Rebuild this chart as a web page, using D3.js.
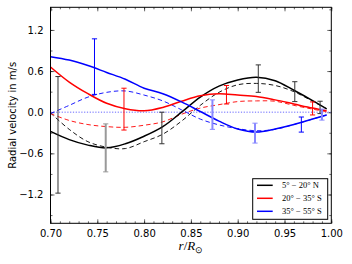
<!DOCTYPE html>
<head>
    <meta charset="utf-8">
    <script src="https://cdn.jsdelivr.net/npm/d3@7"></script>
    <style type="text/css">
        body {
            margin: 0;
            background: #fff;
        }
        .tick text {
            font-family: "DejaVu Sans", sans-serif;
            font-size: 10px;
        }
        .legend text {
            font-family: "Liberation Serif", serif;
            font-size: 8.5px;
        }
    </style>
</head>
<body>
    <div id="chart"></div>
</body>
</html>

<script type="text/javascript">
	// radius grid (r/Rsun) shared by all curves
	var rGrid = [0.700, 0.720, 0.740, 0.760, 0.780, 0.800, 0.820, 0.840, 0.860, 0.880, 0.900, 0.920, 0.940, 0.960, 0.980, 0.995];

	// solid = model, dashed = second model, one per latitude band
	var blackSolid = [-0.28, -0.40, -0.48, -0.52, -0.46, -0.35, -0.21, 0.00, 0.22, 0.38, 0.47, 0.51, 0.46, 0.32, 0.17, 0.05];
	var blackDashed = [-0.01, -0.25, -0.43, -0.51, -0.53, -0.43, -0.32, -0.13, 0.10, 0.29, 0.40, 0.42, 0.39, 0.30, 0.16, 0.05];
	var redSolid = [0.66, 0.44, 0.27, 0.13, 0.05, 0.02, 0.07, 0.16, 0.24, 0.27, 0.25, 0.23, 0.18, 0.12, 0.06, 0.02];
	var redDashed = [-0.02, -0.12, -0.18, -0.21, -0.22, -0.19, -0.14, -0.03, 0.06, 0.11, 0.155, 0.165, 0.16, 0.10, 0.045, 0.005];
	var blueSolid = [0.81, 0.76, 0.68, 0.58, 0.48, 0.35, 0.27, 0.15, 0.01, -0.13, -0.245, -0.29, -0.245, -0.18, -0.10, -0.04];
	var blueDashed = [-0.02, 0.10, 0.22, 0.29, 0.31, 0.25, 0.165, 0.035, -0.10, -0.185, -0.24, -0.27, -0.25, -0.18, -0.10, -0.04];

	// measurements with error bars; group "b" = second data set
	var blackErrR = [0.708, 0.759, 0.819, 0.922, 0.961, 0.988];
	var blackErrV = [-0.33, -0.52, -0.23, 0.49, 0.30, 0.07];
	var blackErrE = [0.85, 0.35, 0.23, 0.20, 0.145, 0.09];
	var blackErrG = ["a", "b", "a", "a", "a", "a"];

	var redErrR = [0.7785, 0.888, 0.980];
	var redErrV = [0.045, 0.255, 0.055];
	var redErrE = [0.305, 0.135, 0.095];
	var redErrG = ["a", "a", "a"];

	var blueErrR = [0.747, 0.873, 0.9185, 0.968, 0.990];
	var blueErrV = [0.665, -0.035, -0.305, -0.18, -0.035];
	var blueErrE = [0.405, 0.215, 0.145, 0.11, 0.08];
	var blueErrG = ["a", "b", "b", "a", "b"];

	var legendLabels = ["5\u00b0 \u2212 20\u00b0 N", "20\u00b0 \u2212 35\u00b0 S", "35\u00b0 \u2212 55\u00b0 S"];
	var xTicks = [0.70, 0.75, 0.80, 0.85, 0.90, 0.95, 1.00];
	var yTicks = [-1.2, -0.6, 0.0, 0.6, 1.2];

	var width = 352, height = 264;
	var margin = {left: 50.5, right: 20.7, top: 7.3, bottom: 40.7};

	var svg = d3.select('#chart').append("svg")
		.attr("width", width)
		.attr("height", height);

	var x = d3.scaleLinear()
		.domain([0.70, 1.00])
		.range([margin.left, width - margin.right]);

	var y = d3.scaleLinear()
		.domain([-1.62, 1.53])
		.range([height - margin.bottom, margin.top]);

	var fmtMinus = function(f) {
		return function(d) { return f(d).replace("-", "\u2212"); };
	};

	// ticks on all four sides, pointing in (classic style)
	var minorX = d3.range(0.70, 1.0001, 0.01);
	var minorY = d3.range(-1.5, 1.51, 0.3);

	function addAxis(axis, tr, minor, showLabels) {
		var g = svg.append("g").attr("transform", tr);
		g.call(axis.tickValues(minor).tickSize(-2).tickFormat(""));
		g.select(".domain").remove();
		var g2 = svg.append("g").attr("transform", tr);
		g2.call(showLabels);
		g2.select(".domain").remove();
		g.selectAll("line").attr("stroke", "#000").attr("stroke-width", 0.6);
		g2.selectAll("line").attr("stroke", "#000").attr("stroke-width", 0.6);
	}

	var fx = fmtMinus(d3.format(".2f")), fy = fmtMinus(d3.format(".1f"));
	var yb = height - margin.bottom, xr = width - margin.right;

	addAxis(d3.axisBottom(x), "translate(0," + yb + ")", minorX,
		function(g) { g.call(d3.axisBottom(x).tickValues(xTicks).tickSize(-4).tickPadding(7).tickFormat(fx)); });
	addAxis(d3.axisTop(x), "translate(0," + margin.top + ")", minorX,
		function(g) { g.call(d3.axisTop(x).tickValues(xTicks).tickSize(-4).tickFormat("")); });
	addAxis(d3.axisLeft(y), "translate(" + margin.left + ",0)", minorY,
		function(g) { g.call(d3.axisLeft(y).tickValues(yTicks).tickSize(-4).tickPadding(7).tickFormat(fy)); });
	addAxis(d3.axisRight(y), "translate(" + xr + ",0)", minorY,
		function(g) { g.call(d3.axisRight(y).tickValues(yTicks).tickSize(-4).tickFormat("")); });

	svg.selectAll(".tick text").attr("fill", "#000");

	// zero line
	svg.append("line")
		.attr("x1", x(0.70)).attr("x2", x(1.00))
		.attr("y1", y(0)).attr("y2", y(0))
		.attr("stroke", "#9999ff")
		.attr("stroke-width", 1.5)
		.attr("stroke-dasharray", "1.2,1.6");

	var line = d3.line()
		.x(function(d) { return x(d[0]); })
		.y(function(d) { return y(d[1]); })
		.curve(d3.curveCatmullRom);

	var curves = [
		{v: blackDashed, c: "#000", dash: true},
		{v: redDashed, c: "#ff0000", dash: true},
		{v: blueDashed, c: "#0000ff", dash: true},
		{v: blackSolid, c: "#000", dash: false},
		{v: redSolid, c: "#ff0000", dash: false},
		{v: blueSolid, c: "#0000ff", dash: false}
	];

	var plot = svg.append("g");

	curves.forEach(function(k) {
		plot.append("path")
			.datum(d3.zip(rGrid, k.v))
			.attr("d", line)
			.attr("fill", "none")
			.attr("stroke", k.c)
			.attr("stroke-width", k.dash ? 0.9 : 1.5)
			.attr("stroke-dasharray", k.dash ? "4.5,3" : null);
	});

	// error bars
	var errSets = [
		{r: blackErrR, v: blackErrV, e: blackErrE, g: blackErrG, c: "#333", c2: "#999999"},
		{r: redErrR, v: redErrV, e: redErrE, g: redErrG, c: "#ff0000", c2: "#ff8888"},
		{r: blueErrR, v: blueErrV, e: blueErrE, g: blueErrG, c: "#0000ff", c2: "#8888ff"}
	];

	errSets.forEach(function(s) {
		var rows = s.r.map(function(r, i) { return {r: r, v: s.v[i], e: s.e[i], g: s.g[i]}; });
		var eb = plot.append("g").selectAll("g")
			.data(rows)
			.enter().append("g")
			.attr("stroke", function(d) { return d.g == "b" ? s.c2 : s.c; })
			.attr("stroke-width", function(d) { return d.g == "b" ? 2 : 1; });
		eb.append("line")
			.attr("x1", function(d) { return x(d.r); })
			.attr("x2", function(d) { return x(d.r); })
			.attr("y1", function(d) { return y(d.v + d.e); })
			.attr("y2", function(d) { return y(d.v - d.e); });
		[1, -1].forEach(function(sg) {
			eb.append("line")
				.attr("stroke-width", 1)
				.attr("x1", function(d) { return x(d.r) - 2.6; })
				.attr("x2", function(d) { return x(d.r) + 2.6; })
				.attr("y1", function(d) { return y(d.v + sg * d.e); })
				.attr("y2", function(d) { return y(d.v + sg * d.e); });
		});
	});

	// frame
	svg.append("rect")
		.attr("x", margin.left).attr("y", margin.top)
		.attr("width", xr - margin.left)
		.attr("height", yb - margin.top)
		.attr("fill", "none")
		.attr("stroke", "#000")
		.attr("stroke-width", 1);

	// axis labels
	svg.append("text")
		.attr("transform", "translate(16," + ((margin.top + yb) / 2) + ") rotate(-90)")
		.attr("text-anchor", "middle")
		.style("font-family", "DejaVu Sans, sans-serif")
		.style("font-size", "10px")
		.text("Radial velocity in m/s");

	var xl = svg.append("text")
		.attr("x", (margin.left + xr) / 2)
		.attr("y", 250)
		.attr("text-anchor", "middle")
		.style("font-family", "Liberation Serif, serif")
		.style("font-size", "13px");
	xl.append("tspan").style("font-style", "italic").text("r");
	xl.append("tspan").text("/");
	xl.append("tspan").style("font-style", "italic").text("R");
	xl.append("tspan").attr("dy", 2.5).style("font-size", "9px").text("\u2299");

	// legend
	var legend = svg.append("g").attr("class", "legend");
	legend.append("rect")
		.attr("x", 252.7).attr("y", 178.7)
		.attr("width", 75).attr("height", 40.6)
		.attr("fill", "#fff")
		.attr("stroke", "#000")
		.attr("stroke-width", 1);
	var legendColors = ["#000", "#ff0000", "#0000ff"];
	var li = legend.selectAll(".item")
		.data(legendLabels)
		.enter().append("g")
		.attr("transform", function(d, i) { return "translate(0," + (185.3 + i * 13) + ")"; });
	li.append("line")
		.attr("x1", 257).attr("x2", 272.7)
		.attr("stroke", function(d, i) { return legendColors[i]; })
		.attr("stroke-width", 1.5);
	li.append("text")
		.attr("x", 282)
		.attr("dy", "0.33em")
		.text(function(d) { return d; });
</script>
